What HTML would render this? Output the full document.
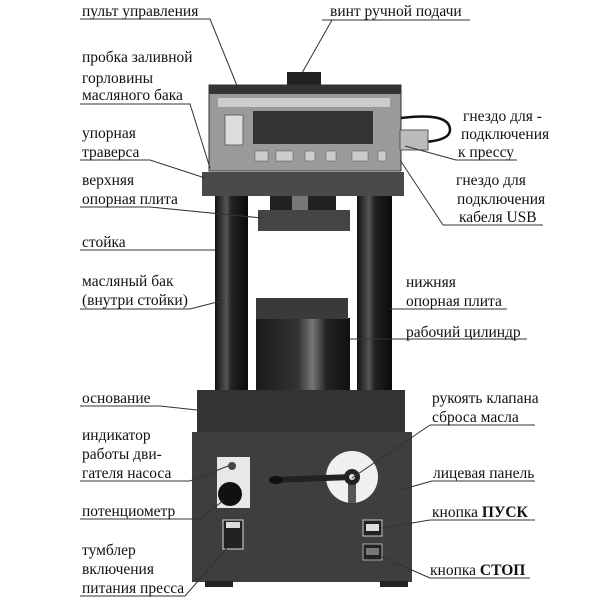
<!DOCTYPE html>
<html><head><meta charset="utf-8"><style>
html,body{margin:0;padding:0;background:#fff}
svg{display:block}
text{font-family:"Liberation Serif","DejaVu Serif",serif;font-size:15.5px;fill:#111}
</style></head><body>
<svg width="600" height="600" viewBox="0 0 600 600" xmlns="http://www.w3.org/2000/svg">
<defs>
<linearGradient id="col" x1="0" x2="1"><stop offset="0" stop-color="#111"/><stop offset=".35" stop-color="#555"/><stop offset=".5" stop-color="#222"/><stop offset="1" stop-color="#0a0a0a"/></linearGradient>
<linearGradient id="cyl" x1="0" x2="1"><stop offset="0" stop-color="#1a1a1a"/><stop offset=".45" stop-color="#333"/><stop offset=".6" stop-color="#777"/><stop offset=".75" stop-color="#222"/><stop offset="1" stop-color="#111"/></linearGradient>
</defs>
<rect x="215" y="192" width="33" height="210" fill="url(#col)"/>
<rect x="357" y="192" width="35" height="210" fill="url(#col)"/>
<rect x="256" y="318" width="94" height="85" fill="url(#cyl)"/>
<rect x="256" y="298" width="92" height="21" fill="#3a3a3a"/>
<rect x="270" y="195" width="66" height="15" fill="#222"/>
<rect x="292" y="195" width="16" height="15" fill="#777"/>
<rect x="258" y="210" width="92" height="21" fill="#444"/>
<rect x="202" y="172" width="202" height="24" fill="#4a4a4a"/>
<rect x="287" y="72" width="34" height="14" fill="#222"/>
<rect x="209" y="85" width="192" height="86" fill="#9a9a9a" stroke="#333"/>
<rect x="209" y="85" width="192" height="9" fill="#333"/>
<rect x="218" y="98" width="172" height="9" fill="#ccc"/>
<rect x="253" y="111" width="120" height="33" fill="#333"/>
<rect x="225" y="115" width="18" height="30" fill="#ddd" stroke="#666"/>
<g fill="#ccc" stroke="#555" stroke-width=".5">
<rect x="255" y="151" width="13" height="10"/><rect x="276" y="151" width="17" height="10"/><rect x="305" y="151" width="10" height="10"/><rect x="326" y="151" width="10" height="10"/><rect x="352" y="151" width="16" height="10"/><rect x="378" y="151" width="8" height="10"/>
</g>
<path d="M401 118 Q450 112 450 130 Q450 140 425 142" fill="none" stroke="#111" stroke-width="2.5"/>
<rect x="400" y="130" width="28" height="20" fill="#bbb" stroke="#555"/>
<rect x="197" y="390" width="208" height="43" fill="#333"/>
<rect x="192" y="432" width="220" height="150" fill="#3e3e3e"/>
<rect x="205" y="581" width="28" height="6" fill="#222"/><rect x="380" y="581" width="28" height="6" fill="#222"/>
<rect x="217" y="457" width="33" height="51" fill="#e8e8e8"/>
<circle cx="232" cy="466" r="4" fill="#444"/>
<circle cx="230" cy="494" r="12" fill="#111"/>
<rect x="223" y="520" width="20" height="29" fill="#222" stroke="#ddd"/>
<rect x="226" y="522" width="14" height="6" fill="#ddd"/>
<circle cx="352" cy="477" r="26" fill="#f0f0f0"/>
<rect x="348" y="480" width="8" height="23" fill="#555"/>
<path d="M272 480 L352 477" stroke="#222" stroke-width="6" stroke-linecap="round"/>
<ellipse cx="276" cy="480" rx="7" ry="4" fill="#111"/>
<circle cx="352" cy="477" r="8" fill="#222"/><circle cx="352" cy="477" r="3" fill="#ddd"/>
<rect x="363" y="520" width="19" height="16" fill="#222" stroke="#ccc"/><rect x="366" y="524" width="13" height="7" fill="#ddd"/>
<rect x="363" y="544" width="19" height="16" fill="#222" stroke="#aaa"/><rect x="366" y="548" width="13" height="7" fill="#777"/>
<g stroke="#333" stroke-width="1" fill="none">
<path d="M80 19H210L240 93"/>
<path d="M322 20H470M332 20L302 73"/>
<path d="M80 104H190L210 168"/>
<path d="M80 160H150L205 178"/>
<path d="M80 207H150L262 218"/>
<path d="M80 250H215"/>
<path d="M80 309H190L225 300"/>
<path d="M80 406H160L197 410"/>
<path d="M80 481H190L228 466"/>
<path d="M80 519H200L224 500"/>
<path d="M80 596H185L227 548"/>
<path d="M456 160H517M456 160L405 146"/>
<path d="M443 225H543M443 225L400 160"/>
<path d="M390 309H507"/>
<path d="M350 339H527"/>
<path d="M430 425H535M430 425L352 478"/>
<path d="M432 481H535M432 481L400 490"/>
<path d="M430 520H535M430 520L382 528"/>
<path d="M430 578H530M430 578L382 557"/>
</g>
<text x="82" y="16">пульт управления</text>
<text x="330" y="16">винт ручной подачи</text>
<text x="82" y="62">пробка заливной</text>
<text x="82" y="83">горловины</text>
<text x="82" y="100">масляного бака</text>
<text x="82" y="138">упорная</text>
<text x="82" y="157">траверса</text>
<text x="82" y="185">верхняя</text>
<text x="82" y="204">опорная плита</text>
<text x="82" y="247">стойка</text>
<text x="82" y="286">масляный бак</text>
<text x="82" y="305">(внутри стойки)</text>
<text x="82" y="403">основание</text>
<text x="82" y="440">индикатор</text>
<text x="82" y="459">работы дви-</text>
<text x="82" y="478">гателя насоса</text>
<text x="82" y="516">потенциометр</text>
<text x="82" y="555">тумблер</text>
<text x="82" y="574">включения</text>
<text x="82" y="593">питания пресса</text>
<text x="463" y="121">гнездо для -</text>
<text x="461" y="139">подключения</text>
<text x="458" y="157">к прессу</text>
<text x="456" y="185">гнездо для</text>
<text x="457" y="204">подключения</text>
<text x="459" y="222">кабеля USB</text>
<text x="406" y="287">нижняя</text>
<text x="406" y="306">опорная плита</text>
<text x="406" y="337">рабочий цилиндр</text>
<text x="432" y="403">рукоять клапана</text>
<text x="432" y="422">сброса масла</text>
<text x="433" y="478">лицевая панель</text>
<text x="432" y="517">кнопка <tspan font-weight="bold">ПУСК</tspan></text>
<text x="430" y="575">кнопка <tspan font-weight="bold">СТОП</tspan></text>
</svg>
</body></html>
